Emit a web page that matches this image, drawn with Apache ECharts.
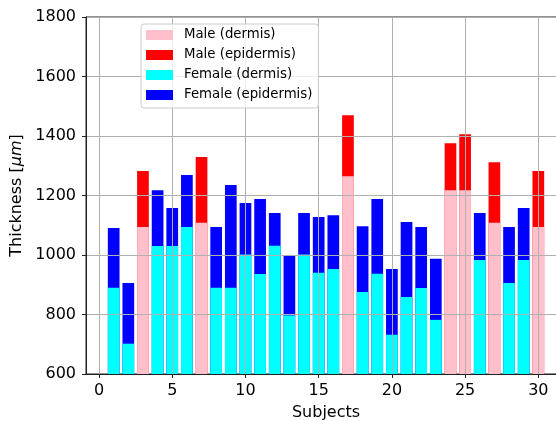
<!DOCTYPE html>
<html>
<head>
<meta charset="utf-8">
<script src="https://cdn.jsdelivr.net/npm/echarts@6/dist/echarts.min.js"></script>
<style>
  html, body { margin: 0; padding: 0; background: #fff; }
  #chart { width: 556px; height: 421px; }
</style>
</head>
<body>
<div id="chart"></div>
<script>
// Skin thickness per subject (micrometres)
const subjects = Array.from({ length: 30 }, (_, i) => i + 1);
const sex = ['F','F','M','F','F','F','M','F','F','F','F','F','F','F','F',
             'F','M','F','F','F','F','F','F','M','M','F','M','F','F','M'];
const dermis = [890, 702, 1094, 1030, 1030, 1094, 1108, 890, 890, 1002,
                936, 1031, 797, 1002, 940, 953, 1265, 876, 937, 732,
                859, 889, 782, 1218, 1218, 983, 1108, 906, 983, 1094];
const epidermis = [201, 204, 188, 188, 128, 175, 221, 204, 345, 173,
                   252, 110, 203, 139, 188, 181, 205, 221, 251, 221,
                   252, 205, 205, 158, 188, 158, 204, 188, 175, 188];
const xTicks = [0, 5, 10, 15, 20, 25, 30];
const yTicks = [600, 800, 1000, 1200, 1400, 1600, 1800];

const FONT = 'DejaVu Sans';
const colors = {
  maleDermis: '#ffc0cb',
  maleEpidermis: '#ff0000',
  femaleDermis: '#00ffff',
  femaleEpidermis: '#0000ff'
};

// Build per-sex series: the epidermis bar spans dermis + epidermis,
// and the dermis bar is drawn in front of it.
function pick(s, useTotal) {
  const out = [];
  subjects.forEach((x, i) => {
    if (sex[i] === s) out.push([x, useTotal ? dermis[i] + epidermis[i] : dermis[i]]);
  });
  return out;
}

const barCommon = { type: 'bar', barWidth: 11.7, barGap: '-100%', clip: true, z: 2 };

const chart = echarts.init(document.getElementById('chart'), null, { renderer: 'canvas' });
chart.setOption({
  animation: false,
  backgroundColor: '#fff',
  textStyle: { fontFamily: FONT },
  grid: {
    left: 86, top: 17, right: -10, bottom: 47,
    outerBoundsMode: 'none',
    containLabel: false,
    show: true, borderColor: '#222', borderWidth: 1, backgroundColor: 'transparent'
  },
  legend: {
    orient: 'vertical',
    left: 141, top: 24,
    padding: [4, 6, 6, 5],
    itemWidth: 27, itemHeight: 10, itemGap: 6,
    backgroundColor: 'rgba(255,255,255,0.8)',
    borderColor: '#cccccc', borderWidth: 1, borderRadius: 3,
    icon: 'rect',
    textStyle: { fontFamily: FONT, fontSize: 13.3, color: '#000', lineHeight: 14, padding: [0, 0, 0, 6] },
    data: ['Male (dermis)', 'Male (epidermis)', 'Female (dermis)', 'Female (epidermis)'],
    z: 10
  },
  xAxis: {
    type: 'value',
    min: -0.89, max: 31.89,
    z: 3,
    name: 'Subjects', nameLocation: 'middle', nameGap: 31,
    nameTextStyle: { fontFamily: FONT, fontSize: 16, color: '#000' },
    axisLine: { onZero: false, lineStyle: { color: '#222', width: 1 } },
    axisTick: { show: true, length: 4, customValues: xTicks, lineStyle: { color: '#222' } },
    axisLabel: { customValues: xTicks, fontFamily: FONT, fontSize: 16, color: '#000', margin: 9 },
    splitLine: { show: true, lineStyle: { color: '#b0b0b0', width: 1 } }
  },
  yAxis: {
    type: 'value',
    min: yTicks[0], max: yTicks[yTicks.length - 1], interval: 200,
    z: 3,
    name: 'Thickness [{i|μm}]', nameLocation: 'middle', nameGap: 52,
    nameTextStyle: {
      fontFamily: FONT, fontSize: 16, color: '#000',
      rich: { i: { fontFamily: FONT, fontSize: 16, fontStyle: 'italic', color: '#000' } }
    },
    axisLine: { show: true, onZero: false, lineStyle: { color: '#222', width: 1 } },
    axisTick: { show: true, length: 4, lineStyle: { color: '#222' } },
    axisLabel: { fontFamily: FONT, fontSize: 16, color: '#000', margin: 10, formatter: v => String(v) },
    splitLine: { show: true, lineStyle: { color: '#b0b0b0', width: 1 } }
  },
  series: [
    Object.assign({ name: 'Female (epidermis)', data: pick('F', true), itemStyle: { color: colors.femaleEpidermis } }, barCommon),
    Object.assign({ name: 'Female (dermis)', data: pick('F', false), itemStyle: { color: colors.femaleDermis } }, barCommon),
    Object.assign({ name: 'Male (epidermis)', data: pick('M', true), itemStyle: { color: colors.maleEpidermis } }, barCommon),
    Object.assign({ name: 'Male (dermis)', data: pick('M', false), itemStyle: { color: colors.maleDermis } }, barCommon)
  ]
});
</script>
</body>
</html>
